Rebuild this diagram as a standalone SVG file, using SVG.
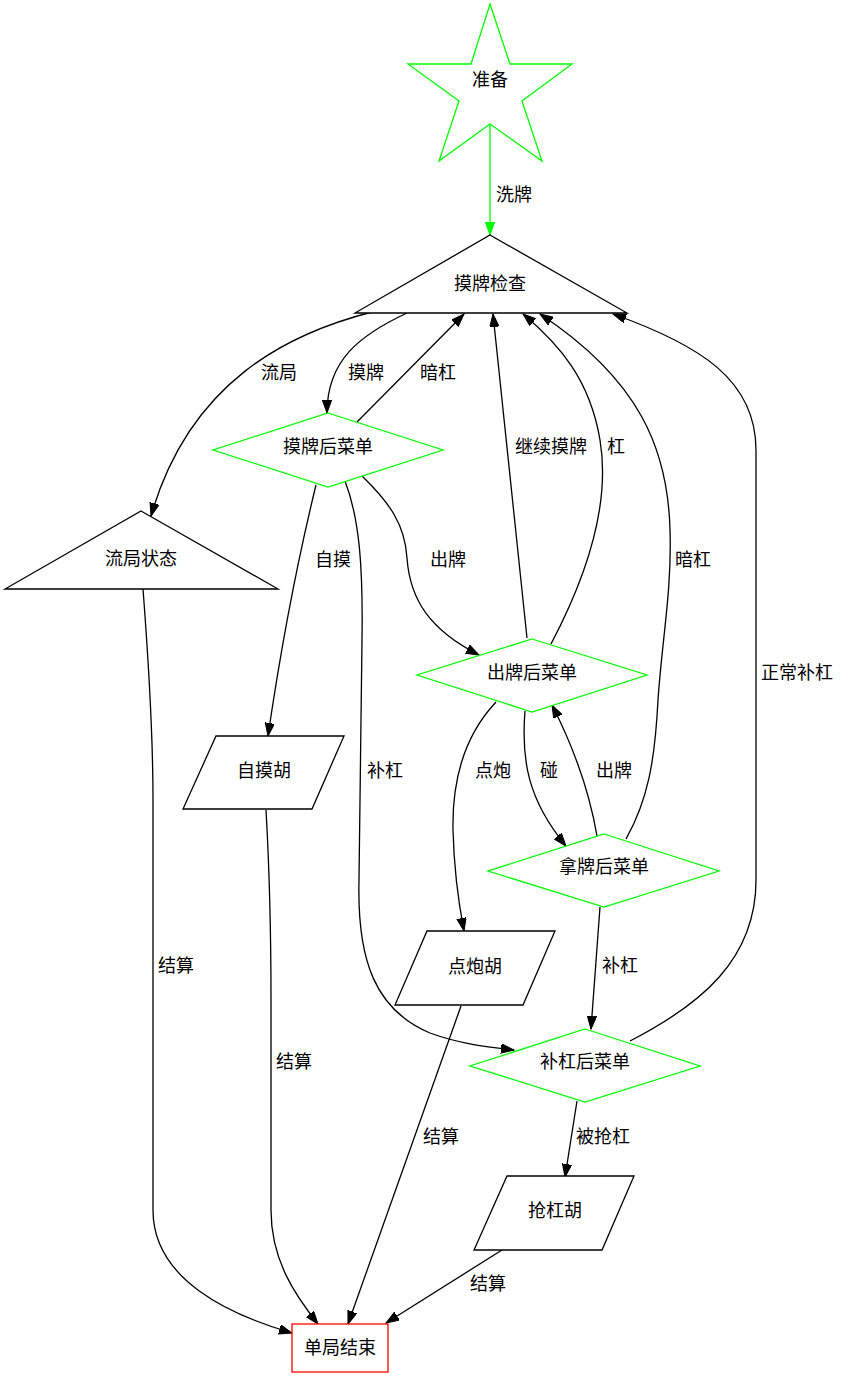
<svg xmlns="http://www.w3.org/2000/svg" width="845" height="1378" viewBox="0 0 845 1378">
<defs>
<style>
text{font-family:"Liberation Serif","Noto Sans CJK SC",serif;font-size:18px;fill:#000;text-anchor:middle;dominant-baseline:central}
.n{fill:#fff;stroke:#000;stroke-width:1.3}
.g{fill:#fff;stroke:#00ff00;stroke-width:1.3}
.r{fill:#fff;stroke:#ff0000;stroke-width:1.3}
.e{fill:none;stroke:#000;stroke-width:1.3;marker-end:url(#a)}
.eg{fill:none;stroke:#00ff00;stroke-width:1.3;marker-end:url(#ag)}
</style>
<marker id="a" markerUnits="userSpaceOnUse" markerWidth="14" markerHeight="10" refX="13" refY="4.7" orient="auto"><path d="M0,0 L13,4.7 L0,9.4 z" fill="#000" stroke="#000" stroke-width="1"/></marker>
<marker id="ag" markerUnits="userSpaceOnUse" markerWidth="14" markerHeight="10" refX="13" refY="4.7" orient="auto"><path d="M0,0 L13,4.7 L0,9.4 z" fill="#00ff00" stroke="#00ff00" stroke-width="1"/></marker>
</defs>
<rect width="845" height="1378" fill="#fff"/>
<g id="edges">
<path class="eg" d="M490,124 L490,235"/><text x="514" y="195">洗牌</text>
<path class="e" d="M372,312 C290,333 190,380 151,516"/><text x="279" y="373">流局</text>
<path class="e" d="M407,313 C360,335 327,360 327,413"/><text x="366" y="373">摸牌</text>
<path class="e" d="M357,422 L464,314"/><text x="438" y="373">暗杠</text>
<path class="e" d="M527,638 L493,314"/><text x="551" y="447">继续摸牌</text>
<path class="e" d="M551,644 C590,570 610,500 600,440 C590,380 560,345 523,314"/><text x="616" y="447">杠</text>
<path class="e" d="M626,839 C648,800 655,760 658,700 C662,640 672,590 670,530 C668,450 640,380 540,314"/><text x="693" y="560">暗杠</text>
<path class="e" d="M630,1041 C700,1005 756,960 756,880 L756,450 C756,380 700,345 613,314"/><text x="797" y="673">正常补杠</text>
<path class="e" d="M316,485 C305,530 285,620 268,736"/><text x="333" y="560">自摸</text>
<path class="e" d="M362,476 C390,503 405,525 407,558 C410,600 430,630 479,655"/><text x="448" y="560">出牌</text>
<path class="e" d="M345,481 C360,520 363,570 362,640 L359,880 C357,960 375,1010 430,1033 C460,1044 488,1047 514,1050"/><text x="385" y="771">补杠</text>
<path class="e" d="M496,702 C465,735 452,780 453,830 C454,870 458,900 464,931"/><text x="493" y="771">点炮</text>
<path class="e" d="M525,711 C521,760 528,800 566,846"/><text x="549" y="771">碰</text>
<path class="e" d="M597,836 C590,795 575,750 552,705"/><text x="614" y="771">出牌</text>
<path class="e" d="M600,907 L591,1029"/><text x="620" y="966">补杠</text>
<path class="e" d="M577,1101 L565,1177"/><text x="603" y="1137">被抢杠</text>
<path class="e" d="M143,589 C150,680 153,740 153,800 L153,1210 C153,1280 230,1315 292,1333"/><text x="176" y="966">结算</text>
<path class="e" d="M266,810 C270,880 271,920 271,1000 L271,1210 C271,1260 295,1295 318,1324"/><text x="294" y="1062">结算</text>
<path class="e" d="M461,1006 L348,1324"/><text x="441" y="1137">结算</text>
<path class="e" d="M502,1250 L386,1323"/><text x="488" y="1284">结算</text>
</g>
<g id="zhunbei"><polygon class="g" points="490,4 510,64 572,64 522,101 542,161 490,124 439,161 459,101 408,64 471,64"/><text x="490" y="80">准备</text></g>
<g id="mopaijiancha"><polygon class="n" points="490,235 627,313 355,313"/><text x="490" y="284">摸牌检查</text></g>
<g id="liujuzhuangtai"><polygon class="n" points="141,511 278,589 5,589"/><text x="141" y="559">流局状态</text></g>
<g id="mopaihoucaidan"><polygon class="g" points="328,413 443,450 328,487 213,450"/><text x="328" y="447">摸牌后菜单</text></g>
<g id="chupaihoucaidan"><polygon class="g" points="532,639 647,675 532,712 417,675"/><text x="532" y="673">出牌后菜单</text></g>
<g id="napaihoucaidan"><polygon class="g" points="604,834 719,871 604,907 488,871"/><text x="604" y="867">拿牌后菜单</text></g>
<g id="bugang"><polygon class="g" points="585,1029 700,1066 585,1102 470,1066"/><text x="585" y="1062">补杠后菜单</text></g>
<g id="zimohu"><polygon class="n" points="216,736 344,736 312,809 183,809"/><text x="264" y="771">自摸胡</text></g>
<g id="dianpaohu"><polygon class="n" points="427,931 555,931 523,1005 395,1005"/><text x="475" y="967">点炮胡</text></g>
<g id="qiangganghu"><polygon class="n" points="507,1176 634,1176 602,1250 474,1250"/><text x="555" y="1211">抢杠胡</text></g>
<g id="danjujieshu"><rect class="r" x="292" y="1324" width="96" height="48"/><text x="340" y="1348">单局结束</text></g>
</svg>
